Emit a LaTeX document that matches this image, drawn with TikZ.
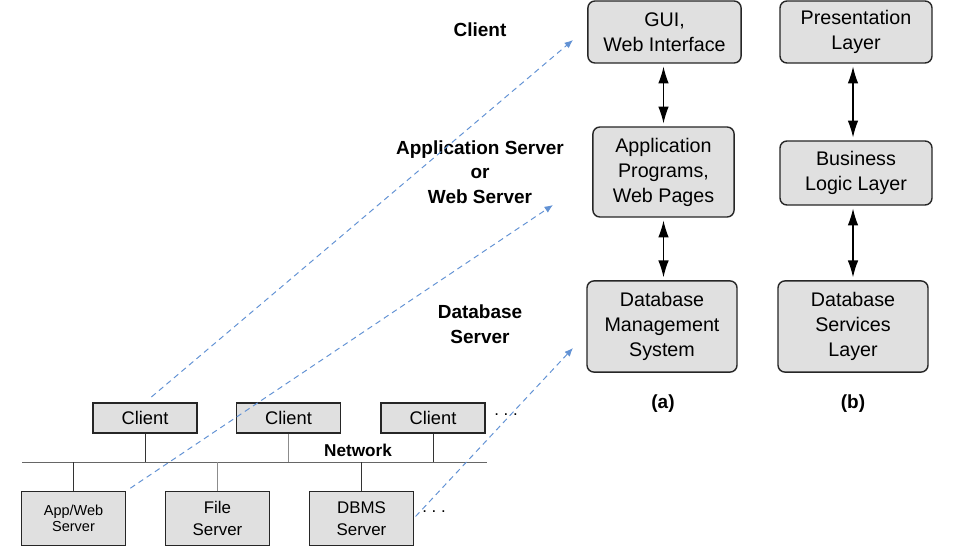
\documentclass[tikz,border=0pt]{standalone}
\usepackage{fontspec}
\setmainfont{Liberation Sans}
\usepackage{tikz}
\usetikzlibrary{arrows,arrows.meta}
\definecolor{boxgray}{RGB}{224,224,224}
\definecolor{linkblue}{RGB}{98,146,212}
\tikzstyle{tier}=[draw=black!85, fill=boxgray, rounded corners=5pt, line width=1pt, align=center, inner sep=0pt, font=\fontsize{14}{17.8}\selectfont]
\tikzstyle{host}=[draw=black!85, fill=boxgray, line width=0.8pt, align=center, inner sep=0pt]
\tikzstyle{lbl}=[align=center, font=\bfseries\fontsize{13.5}{17.4}\selectfont]
\tikzstyle{link}=[linkblue, line width=0.7pt, dash pattern=on 4pt off 3pt, -{Latex[length=6pt,width=5pt]}]
\tikzstyle{wire}=[line width=0.7pt, black!80]
\tikzstyle{call}=[line width=0.9pt, {Latex[length=12pt,width=7.5pt]}-{Latex[length=12pt,width=7.5pt]}, shorten <=2pt, shorten >=2pt]

\begin{document}
\begin{tikzpicture}[x=0.025cm,y=-0.025cm]
    \useasboundingbox (0,0) rectangle (962,558);
    % (a) tiers
    \node [tier, minimum width=3.83cm, minimum height=1.55cm] (gui) at (664.5,32) {GUI,\\Web Interface};
    \node [tier, minimum width=3.53cm, minimum height=2.25cm] (apps) at (663.5,172) {Application\\Programs,\\Web Pages};
    \node [tier, minimum width=3.75cm, minimum height=2.28cm] (dbms) at (662,326.5) {Database\\Management\\System};
    % (b) layers
    \node [tier, minimum width=3.8cm, minimum height=1.55cm] (pres) at (856,32) {Presentation\\Layer};
    \node [tier, minimum width=3.8cm, minimum height=1.6cm] (logic) at (856,173) {Business\\Logic Layer};
    \node [tier, minimum width=3.75cm, minimum height=2.28cm] (dbsvc) at (853,326.5) {Database\\Services\\Layer};
    \draw [call] (gui.south -| apps.center) -- (apps.north);
    \draw [call] (apps.south) -- (dbms.north -| apps.center);
    \draw [call] (pres.south -| dbsvc.center) -- (logic.north -| dbsvc.center);
    \draw [call] (logic.south -| dbsvc.center) -- (dbsvc.north);
    \node [lbl] (capa) at (663,404) {(a)};
    \node [lbl] (capb) at (853,404) {(b)};
    % tier names
    \node [lbl] (lclient) at (480,30) {Client};
    \node [lbl] (lapp) at (480,172) {Application Server\\or\\Web Server};
    \node [lbl] (ldb) at (480,324) {Database\\Server};
    % network
    \node [host, minimum width=2.6cm, minimum height=0.75cm, font=\fontsize{13}{15}\selectfont] (c1) at (145,418) {Client};
    \node [host, minimum width=2.6cm, minimum height=0.75cm, font=\fontsize{13}{15}\selectfont] (c2) at (288.5,418) {Client};
    \node [host, minimum width=2.6cm, minimum height=0.75cm, font=\fontsize{13}{15}\selectfont] (c3) at (433,418) {Client};
    \node [font=\fontsize{12}{14}\selectfont] (cdots) at (506,415) {.\;.\;.};
    \node [host, minimum width=2.58cm, minimum height=1.33cm, font=\fontsize{10.3}{11.8}\selectfont] (websrv) at (73.5,518.5) {App/Web\\Server};
    \node [host, minimum width=2.58cm, minimum height=1.33cm, font=\fontsize{12}{15.4}\selectfont] (filesrv) at (217.5,518.5) {File\\Server};
    \node [host, minimum width=2.58cm, minimum height=1.33cm, font=\fontsize{12}{15.4}\selectfont] (dbsrv) at (361.5,518.5) {DBMS\\Server};
    \node [font=\fontsize{12}{14}\selectfont] (sdots) at (434,512) {.\;.\;.};
    \node [font=\bfseries\fontsize{12.2}{14}\selectfont] (net) at (358,450) {Network};
    \coordinate (netL) at (22,462);
    \coordinate (netR) at (487,462);
    \draw [line width=0.5pt, black!60] (netL) -- (netR);
    \draw [wire] (c1.south) -- (c1.south |- netL);
    \draw [line width=0.4pt, black!45] (c2.south) -- (c2.south |- netL);
    \draw [wire] (c3.south) -- (c3.south |- netL);
    \draw [wire] (websrv.north) -- (websrv.north |- netL);
    \draw [line width=0.4pt, black!45] (filesrv.north) -- (filesrv.north |- netL);
    \draw [wire] (dbsrv.north) -- (dbsrv.north |- netL);
    % where each host runs
    \coordinate (toclient) at (573,40);
    \coordinate (toapp) at (553,205);
    \coordinate (todb) at (573,348);
    \draw [link, shorten <=6pt] (c1.north) -- (toclient);
    \draw [link, shorten <=4pt] (websrv.north east) -- (toapp);
    \draw [link, shorten <=2pt] (dbsrv.east) -- (todb);
\end{tikzpicture}
\end{document}
